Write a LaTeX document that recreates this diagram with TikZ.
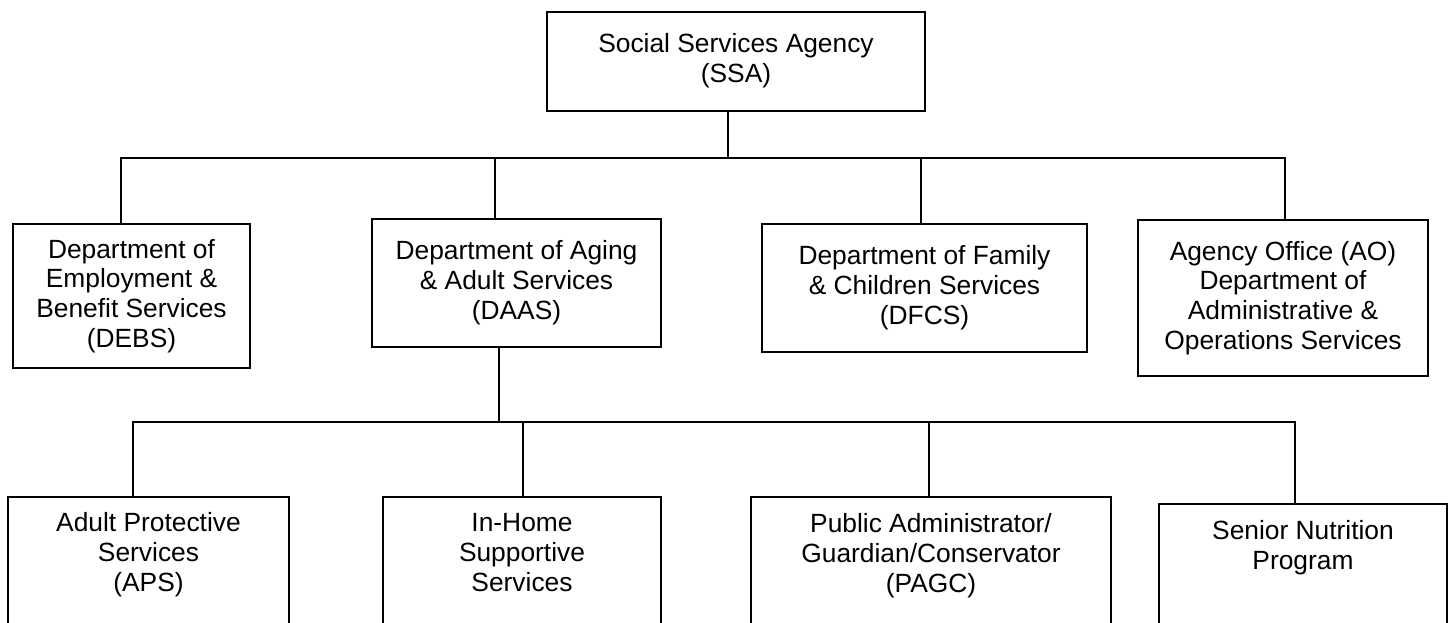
\documentclass[tikz,border=0pt]{standalone}
\usepackage{fontspec}
\setmainfont{Liberation Sans}
\usetikzlibrary{positioning}

\tikzset{
  unit/.style={draw, line width=1pt, rectangle, inner sep=0pt, align=center},
  caption/.style={inner sep=0pt, align=center},
  wire/.style={line width=1.1pt, line cap=rect},
}

\begin{document}
\begin{tikzpicture}[x=0.02cm, y=-0.02cm, font=\fontsize{15}{17}\selectfont]

            \useasboundingbox (0,0) rectangle (1453,622);

            % agency
            \node[unit, minimum width=7.56cm, minimum height=1.98cm] (ssa) at (736,61.5) {};
            \node[caption, below=0.44cm of ssa.north] (ssa-t) {Social Services Agency\\(SSA)};

            % departments
            \node[unit, minimum width=4.74cm, minimum height=2.88cm] (debs) at (131.5,296) {Department of\\Employment \&\\Benefit Services\\(DEBS)};
            \node[unit, minimum width=5.78cm, minimum height=2.56cm] (daas) at (516.5,283) {Department of Aging\\\& Adult Services\\(DAAS)};
            \node[unit, minimum width=6.5cm,  minimum height=2.56cm] (dfcs) at (924.5,288) {Department of Family\\\& Children Services\\(DFCS)};
            \node[unit, minimum width=5.8cm,  minimum height=3.12cm] (ao)   at (1283,298)  {Agency Office (AO)\\Department of\\Administrative \&\\Operations Services};

            % programs of DAAS
            \node[unit, anchor=north, minimum width=5.62cm, minimum height=3cm] (aps)  at (148.5,496) {};
            \node[unit, anchor=north, minimum width=5.56cm, minimum height=3cm] (ihss) at (522,496)   {};
            \node[unit, anchor=north, minimum width=7.2cm,  minimum height=3cm] (pagc) at (931,496)   {};
            \node[unit, anchor=north, minimum width=5.76cm, minimum height=3cm] (snp)  at (1303,503)  {};

            \node[caption, below=0.32cm of aps.north]  (aps-t)  {Adult Protective\\Services\\(APS)};
            \node[caption, below=0.34cm of ihss.north] (ihss-t) {In-Home\\Supportive\\Services};
            \node[caption, below=0.34cm of pagc.north] (pagc-t) {Public Administrator/\\Guardian/Conservator\\(PAGC)};
            \node[caption, below=0.34cm of snp.north]  (snp-t)  {Senior Nutrition\\Program};

            % first level
            \coordinate (top) at (728,158);
            \draw[wire] (ssa.south -| top) -- (top);
            \foreach \dx/\nd in {121/debs,495/daas,921/dfcs,1285/ao} {
                \coordinate (t-\nd) at (\dx,158);
                \draw[wire] (t-\nd) -- (t-\nd |- \nd.north);
            }
            \draw[wire] (t-debs) -- (t-ao);

            % second level
            \coordinate (mid) at (499,422);
            \draw[wire] (daas.south -| mid) -- (mid);
            \foreach \dx/\nd in {133/aps,523/ihss,929/pagc,1295/snp} {
                \coordinate (t-\nd) at (\dx,422);
                \draw[wire] (t-\nd) -- (t-\nd |- \nd.north);
            }
            \draw[wire] (t-aps) -- (t-snp);
        \end{tikzpicture}
\end{document}
